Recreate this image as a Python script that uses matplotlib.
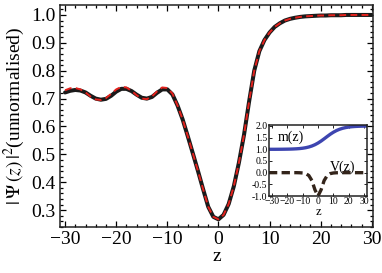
import numpy as np
import matplotlib
matplotlib.use('Agg')
import matplotlib.pyplot as plt
from matplotlib.ticker import MultipleLocator

# main curve at integer z
z = list(range(-30, 31))
psi_num = [0.722, 0.728, 0.731, 0.729, 0.722, 0.710, 0.700, 0.696, 0.699, 0.710,
           0.725, 0.735, 0.735, 0.727, 0.714, 0.703, 0.700, 0.706, 0.721, 0.733,
           0.733, 0.715, 0.675, 0.625, 0.565, 0.503, 0.440, 0.375, 0.312, 0.276,
           0.267, 0.283, 0.322, 0.385, 0.470, 0.570, 0.690, 0.800, 0.870, 0.910,
           0.937, 0.957, 0.970, 0.980, 0.986, 0.990, 0.993, 0.995, 0.996, 0.997,
           0.998, 0.998, 0.999, 0.999, 0.999, 1.000, 1.000, 1.000, 1.000, 1.000,
           1.000]
psi_approx = [0.730, 0.737, 0.738, 0.733, 0.722, 0.707, 0.697, 0.695, 0.702, 0.717,
              0.733, 0.742, 0.740, 0.728, 0.712, 0.700, 0.698, 0.708, 0.726, 0.740,
              0.738, 0.718, 0.675, 0.625, 0.565, 0.503, 0.440, 0.375, 0.312, 0.276,
              0.267, 0.283, 0.322, 0.385, 0.470, 0.570, 0.690, 0.800, 0.870, 0.910,
              0.937, 0.957, 0.970, 0.980, 0.986, 0.990, 0.993, 0.995, 0.996, 0.997,
              0.998, 0.998, 0.999, 0.999, 0.999, 1.000, 1.000, 1.000, 1.000, 1.000,
              1.000]

# inset: mass profile and potential
z_in = list(range(-32, 33, 2))
m_z = [1.001, 1.001, 1.001, 1.002, 1.003, 1.005, 1.007, 1.010, 1.015, 1.022,
       1.032, 1.047, 1.069, 1.100, 1.142, 1.198, 1.269, 1.354, 1.450, 1.550,
       1.646, 1.731, 1.802, 1.858, 1.900, 1.931, 1.953, 1.968, 1.978, 1.985,
       1.990, 1.993, 1.996]
v_z = [0.0, 0.0, 0.0, 0.0, 0.0, 0.0, 0.0, 0.0, 0.0, 0.0,
       -0.004, -0.013, -0.040, -0.122, -0.336, -0.734, -1.0, -0.734, -0.336, -0.122,
       -0.040, -0.013, -0.004, 0.0, 0.0, 0.0, 0.0, 0.0, 0.0, 0.0,
       0.0, 0.0, 0.0]


def frame_ticks(ax, size_major, size_minor, width):
    ax.tick_params(which='both', direction='in', top=True, right=True, width=width)
    ax.tick_params(which='major', length=size_major)
    ax.tick_params(which='minor', length=size_minor)
    for s in ax.spines.values():
        s.set_linewidth(1.1)
        s.set_color('#222222')


def main():
    plt.rcParams['font.family'] = ['Liberation Serif', 'DejaVu Serif']
    plt.rcParams['mathtext.fontset'] = 'stix'
    plt.rcParams['axes.unicode_minus'] = True

    fig = plt.figure(figsize=(3.82, 2.73), dpi=100)
    ax = fig.add_axes([0.157, 0.168, 0.819, 0.814])

    ax.plot(z, psi_num, color='#1a1a1a', lw=2.9, solid_capstyle='round')
    ax.plot(z, psi_approx, color='#e3211c', lw=1.4, dashes=(3.5, 2.2))

    ax.set_xlim(-31, 30.2)
    ax.set_ylim(0.239, 1.036)
    ax.xaxis.set_major_locator(MultipleLocator(10))
    ax.xaxis.set_minor_locator(MultipleLocator(2))
    ax.yaxis.set_major_locator(MultipleLocator(0.1))
    ax.yaxis.set_minor_locator(MultipleLocator(0.02))
    ax.yaxis.set_major_formatter(lambda v, p: '%.1f' % v)
    frame_ticks(ax, 4, 2, 0.9)
    ax.tick_params(labelsize=14, pad=3)
    ax.set_xlabel('z', fontsize=14, labelpad=0)
    ax.set_ylabel(r'$|\,\Psi\,(z)\,|^{2}$(unnormalised)', fontsize=14, labelpad=3)

    # inset
    axi = fig.add_axes([0.704, 0.282, 0.257, 0.260])
    axi.plot(z_in, m_z, color='#3d45b0', lw=2.4)
    axi.plot(z_in, v_z, color='#33241a', lw=2.4, dashes=(2.5, 1.3))
    axi.set_xlim(-32, 32)
    axi.set_ylim(-1.0, 2.04)
    axi.xaxis.set_major_locator(MultipleLocator(10))
    axi.yaxis.set_major_locator(MultipleLocator(0.5))
    axi.yaxis.set_major_formatter(lambda v, p: '%.1f' % v)
    frame_ticks(axi, 2, 1, 0.6)
    axi.tick_params(labelsize=7, pad=1)
    axi.set_xlabel('z', fontsize=9, labelpad=0)
    axi.text(-26, 1.38, 'm(z)', fontsize=10)
    axi.text(8, 0.08, 'V(z)', fontsize=10)

    fig.savefig('out.png', dpi=100)


if __name__ == '__main__':
    main()
